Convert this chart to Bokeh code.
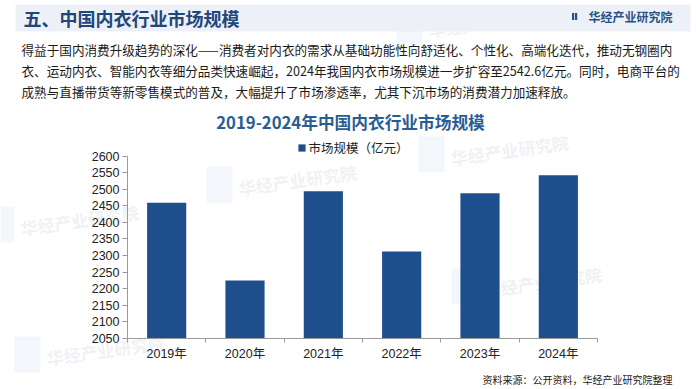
from bokeh.plotting import figure
from bokeh.models import Label, BoxAnnotation, FixedTicker, Range1d, Legend, LegendItem
from bokeh.embed import file_html
from bokeh.resources import INLINE

# ---------------- data ----------------
years = ["2019年", "2020年", "2021年", "2022年", "2023年", "2024年"]
market_size = [2459, 2224, 2494, 2312, 2488, 2542.6]
y_ticks = [2050, 2100, 2150, 2200, 2250, 2300, 2350, 2400, 2450, 2500, 2550, 2600]
series_name = "市场规模（亿元）"
chart_title = "2019-2024年中国内衣行业市场规模"
header_text = "五、中国内衣行业市场规模"
brand_text = "华经产业研究院"
body_lines = [
    "得益于国内消费升级趋势的深化——消费者对内衣的需求从基础功能性向舒适化、个性化、高端化迭代，推动无钢圈内",
    "衣、运动内衣、智能内衣等细分品类快速崛起，2024年我国内衣市场规模进一步扩容至2542.6亿元。同时，电商平台的",
    "成熟与直播带货等新零售模式的普及，大幅提升了市场渗透率，尤其下沉市场的消费潜力加速释放。",
]
source_text = "资料来源：公开资料，华经产业研究院整理"

# ---------------- layout (pixels) ----------------
W, H = 700, 389
AX_L, AX_R = 127.0, 597.0          # x extent of the category axis
AX_T, AX_B = 155.7, 337.7          # y extent of the value axis
n = len(years)
cat_px = (AX_R - AX_L) / n
val_px = (y_ticks[-1] - y_ticks[0]) / (AX_B - AX_T)
x_start = -AX_L / cat_px
x_end = (W - AX_L) / cat_px
y_start = y_ticks[0] - (H - AX_B) * val_px
y_end = y_ticks[-1] + AX_T * val_px

CJK = "Noto Sans CJK SC"
NUM = "Liberation Sans, 'Noto Sans CJK SC'"
BAR = "#1F4E8D"
AXC = "#9A9A9A"


def sy(py):
    return H - py


p = figure(width=W, height=H, output_backend="svg", toolbar_location=None,
           x_range=Range1d(x_start, x_end), y_range=Range1d(y_start, y_end), min_border=0)
p.outline_line_color = None
p.grid.visible = False
p.background_fill_color = "white"
p.border_fill_color = "white"

# faint watermarks (underneath everything)
wm_spots = [(430, 42), (22, 240), (240, 200), (452, 170), (48, 370), (485, 302)]
for wx, wy in wm_spots:
    p.add_layout(BoxAnnotation(left=wx - 34, right=wx - 8, top=sy(wy - 34), bottom=sy(wy + 2),
                               left_units="screen", right_units="screen",
                               top_units="screen", bottom_units="screen",
                               fill_color="#E2EAF4", fill_alpha=0.4, line_color=None,
                               level="underlay"))
    p.add_layout(Label(x=wx, y=sy(wy), x_units="screen", y_units="screen", text=brand_text,
                       text_font=CJK, text_font_size="17px", text_font_style="bold",
                       text_color="#D5DCE6", text_alpha=0.4, angle=0.14,
                       level="underlay"))

xs = [i + 0.5 for i in range(n)]
r = p.vbar(x=xs, top=market_size, bottom=y_ticks[0], width=0.5,
           fill_color=BAR, line_color=None)

xa = p.xaxis[0]
xa.fixed_location = y_ticks[0]
xa.bounds = (0, n)
xa.ticker = FixedTicker(ticks=xs, minor_ticks=list(range(n + 1)))
xa.major_label_overrides = {x: lab for x, lab in zip(xs, years)}
xa.major_tick_out = 0
xa.major_tick_in = 0
xa.minor_tick_out = 4
xa.minor_tick_in = 0
xa.minor_tick_line_color = AXC
xa.axis_line_color = AXC
xa.major_label_standoff = 5
xa.major_label_text_font = NUM
xa.major_label_text_font_size = "12.5px"
xa.major_label_text_color = "#222222"

ya = p.yaxis[0]
ya.fixed_location = 0
ya.bounds = (y_ticks[0], y_ticks[-1])
ya.ticker = FixedTicker(ticks=y_ticks)
ya.major_tick_out = 5
ya.major_tick_in = 0
ya.minor_tick_line_color = None
ya.major_tick_line_color = AXC
ya.axis_line_color = AXC
ya.major_label_standoff = 3
ya.major_label_text_font = NUM
ya.major_label_text_font_size = "12.5px"
ya.major_label_text_color = "#222222"

legend = Legend(items=[LegendItem(label=series_name, renderers=[r])],
                location=(296.5, sy(157)), orientation="horizontal",
                padding=0, margin=0, border_line_color=None, background_fill_alpha=0,
                glyph_width=9, glyph_height=9, label_height=9, label_standoff=3,
                label_text_font=CJK, label_text_font_size="12.5px", label_text_color="#222222")
p.add_layout(legend, "center")

# header band and header
p.add_layout(BoxAnnotation(left=15, right=690, top=sy(4), bottom=sy(31),
                           left_units="screen", right_units="screen",
                           top_units="screen", bottom_units="screen",
                           fill_color="#EDF1F7", fill_alpha=1, line_color=None, level="underlay"))
p.add_layout(Label(x=23, y=sy(17.5), x_units="screen", y_units="screen", text=header_text,
                   text_font=CJK, text_font_size="18px", text_font_style="bold",
                   text_color="#21467A", text_baseline="middle"))

# brand logo
for lx in (571.5, 574.5):
    p.add_layout(BoxAnnotation(left=lx, right=lx + 2.2, top=sy(12.5), bottom=sy(19.5),
                               left_units="screen", right_units="screen",
                               top_units="screen", bottom_units="screen",
                               fill_color="#27518A", fill_alpha=1, line_color=None))
p.add_layout(Label(x=588, y=sy(16), x_units="screen", y_units="screen", text=brand_text,
                   text_font=CJK, text_font_size="12px", text_font_style="bold",
                   text_color="#2A5285", text_baseline="middle"))

# body text
for i, line in enumerate(body_lines):
    p.add_layout(Label(x=21, y=sy(48.5 + 21 * i), x_units="screen", y_units="screen", text=line,
                       text_font=CJK, text_font_size="12.6px", text_color="#1A1A1A",
                       text_baseline="middle"))

# chart title
p.add_layout(Label(x=350, y=sy(121), x_units="screen", y_units="screen", text=chart_title,
                   text_font=CJK, text_font_size="16.7px", text_font_style="bold",
                   text_color="#2A5C94", text_baseline="middle", text_align="center"))

# source
p.add_layout(Label(x=482, y=sy(379), x_units="screen", y_units="screen", text=source_text,
                   text_font=CJK, text_font_size="10px", text_color="#222222",
                   text_baseline="middle"))

open("out.html", "w").write(file_html(p, INLINE))
